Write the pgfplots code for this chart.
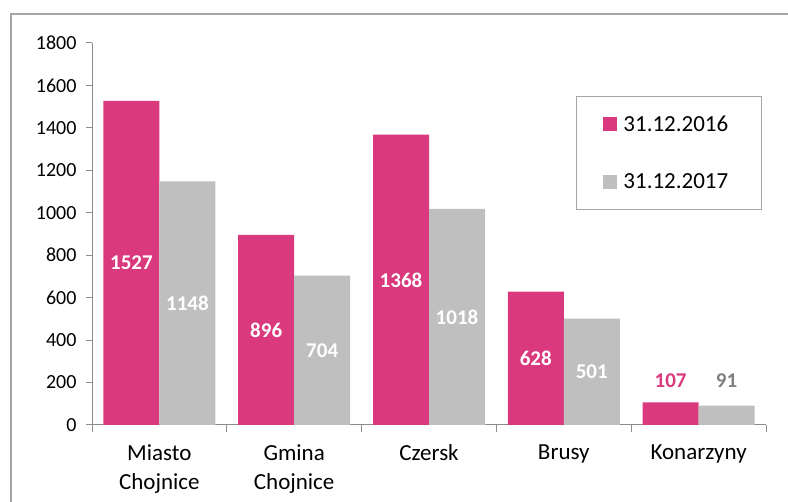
\documentclass[border=0pt]{standalone}
\usepackage{pgfplots}
\pgfplotsset{compat=1.18}
\usepackage{fontspec}
\setmainfont{Carlito}
\definecolor{pinkbar}{HTML}{DA3A7D}
\definecolor{graybar}{HTML}{BFBFBF}
\definecolor{graylab}{HTML}{808080}
\definecolor{framegray}{HTML}{A6A6A6}
\definecolor{axisgray}{HTML}{8C8C8C}
\pgfplotstableread{
x y
0 1527
1 896
2 1368
3 628
4 107
}\pinkdata
\pgfplotstableread{
x y
0 1148
1 704
2 1018
3 501
4 91
}\graydata
\pgfplotstableread{
x y label
0 763.5 1527
1 448 896
2 684 1368
3 314 628
}\pinklab
\pgfplotstableread{
x y label
0 574 1148
1 352 704
2 509 1018
3 250.5 501
}\graylabtab
\begin{document}
\begin{tikzpicture}[x=1pt,y=1pt]
\path[use as bounding box] (0,0) rectangle (788,502);
\draw[framegray, line width=1.2pt] (11,-20) rectangle (830,488);
\begin{axis}[
  at={(92pt,77pt)}, anchor=south west,
  scale only axis, width=674pt, height=382pt,
  xmin=-0.5, xmax=4.5, ymin=0, ymax=1800,
  axis x line=bottom, axis y line=left,
  axis line style={-, axisgray, line width=1pt},
  clip=false,
  ytick={0,200,...,1800},
  xtick={0,1,2,3,4},
  xticklabels={{Miasto\\Chojnice},{Gmina\\Chojnice},{Czersk},{Brusy},{Konarzyny}},
  x tick label style={align=center, font=\fontsize{23}{29}\selectfont, yshift=-10pt, anchor=north},
  y tick label style={font=\fontsize{20}{24}\selectfont, xshift=-6pt},
  /pgf/number format/assume math mode=true,
  /pgf/number format/1000 sep={},
  major x tick style={draw=none},
  minor xtick={-0.5,0.5,...,4.5},
  tick align=outside,
  major tick length=6pt,
  minor tick length=7pt,
  tick style={axisgray, line width=1pt},
  legend style={at={(0.718,0.861)}, anchor=north west,
    draw=framegray, line width=1pt, inner xsep=27pt, inner ysep=17pt,
    row sep=37pt, font=\fontsize{23}{28}\selectfont,
    nodes={inner xsep=6pt}},
  legend cell align=left,
  legend image code/.code={\path[#1,draw=none] (0pt,-7pt) rectangle (14pt,7pt);},
]
\addplot[ybar, bar width=56pt, bar shift=-28pt, fill=pinkbar, draw=none] table[x=x,y=y]{\pinkdata};
\addlegendentry{31.12.2016}
\addplot[ybar, bar width=56pt, bar shift=28pt, fill=graybar, draw=none] table[x=x,y=y]{\graydata};
\addlegendentry{31.12.2017}
\addplot[forget plot, draw=none, mark=none,
  nodes near coords, point meta=explicit symbolic,
  nodes near coords style={white, font=\fontsize{21}{24}\selectfont\bfseries, anchor=center, xshift=-28pt}]
  table[x=x,y=y,meta=label]{\pinklab};
\addplot[forget plot, draw=none, mark=none,
  nodes near coords, point meta=explicit symbolic,
  nodes near coords style={white, font=\fontsize{21}{24}\selectfont\bfseries, anchor=center, xshift=28pt}]
  table[x=x,y=y,meta=label]{\graylabtab};
\addplot[forget plot, draw=none, mark=none,
  nodes near coords, point meta=explicit symbolic,
  nodes near coords style={pinkbar, font=\fontsize{21}{24}\selectfont\bfseries, anchor=center, xshift=-28pt}]
  coordinates {(4,207) [107]};
\addplot[forget plot, draw=none, mark=none,
  nodes near coords, point meta=explicit symbolic,
  nodes near coords style={graylab, font=\fontsize{21}{24}\selectfont\bfseries, anchor=center, xshift=28pt}]
  coordinates {(4,207) [91]};
\end{axis}
\end{tikzpicture}
\end{document}
